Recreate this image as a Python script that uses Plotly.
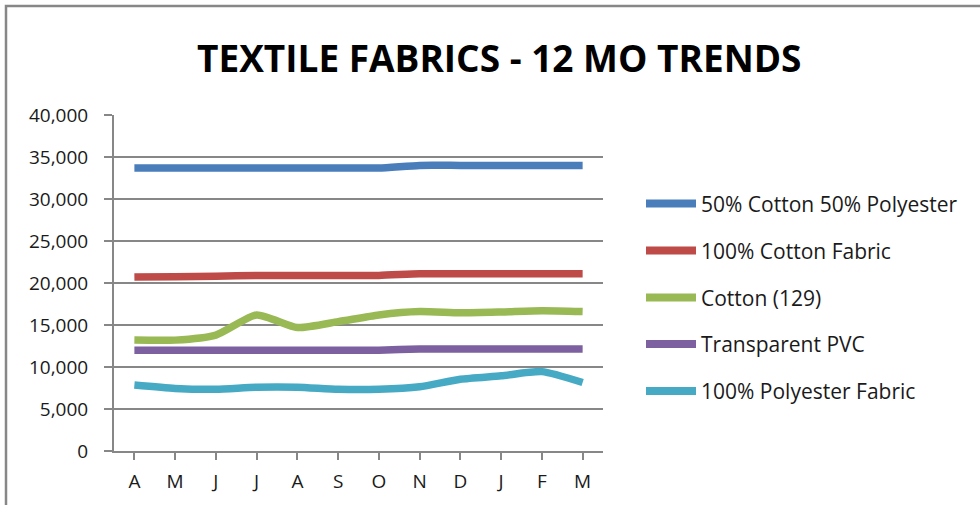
import plotly.graph_objects as go

# Monthly data, April through March
months = ["A", "M", "J", "J", "A", "S", "O", "N", "D", "J", "F", "M"]
series_names = [
    "50% Cotton 50% Polyester",
    "100% Cotton Fabric",
    "Cotton (129)",
    "Transparent PVC",
    "100% Polyester Fabric",
]
poly_cotton_blend = [33700, 33700, 33700, 33700, 33700, 33700, 33700, 34000, 34000, 34000, 34000, 34000]
cotton_fabric = [20700, 20750, 20800, 20900, 20900, 20900, 20900, 21100, 21100, 21100, 21100, 21100]
cotton_129 = [13200, 13200, 13800, 16200, 14700, 15400, 16200, 16600, 16450, 16550, 16700, 16600]
transparent_pvc = [12000, 12000, 12000, 12000, 12000, 12000, 12000, 12150, 12150, 12150, 12150, 12150]
polyester_fabric = [7850, 7450, 7350, 7600, 7600, 7350, 7350, 7650, 8550, 8950, 9450, 8150]
y_ticks = [0, 5000, 10000, 15000, 20000, 25000, 30000, 35000, 40000]

all_series = [poly_cotton_blend, cotton_fabric, cotton_129, transparent_pvc, polyester_fabric]
colors = ["#4A7EBB", "#BE4B48", "#98B954", "#7D60A0", "#46AAC5"]

W, H = 980, 505
L, R, T, B = 114, 603, 115, 451  # plot area edges in pixels
GRAY = "#878787"
FONT = "Open Sans"


def px_x(x):
    return (x - L) / (R - L)


def px_y(y):
    return (B - y) / (B - T)


fig = go.Figure()
x_idx = list(range(len(months)))
for name, vals, col in zip(series_names, all_series, colors):
    fig.add_trace(go.Scatter(
        x=x_idx, y=vals, name=name, mode="lines",
        line=dict(color=col, width=7.5, shape="spline", smoothing=0.6),
        showlegend=False,
    ))

# Hand-drawn legend with long swatches
legend_y = [203.5, 250.5, 297.5, 344, 391]
shapes = []
annotations = []
for name, col, ly in zip(series_names, colors, legend_y):
    shapes.append(dict(type="line", xref="paper", yref="paper",
                       x0=px_x(646), x1=px_x(696), y0=px_y(ly), y1=px_y(ly),
                       line=dict(color=col, width=8)))
    annotations.append(dict(text=name, xref="paper", yref="paper",
                            x=px_x(699), y=px_y(ly), xanchor="left", yanchor="middle",
                            showarrow=False, font=dict(family=FONT, size=21, color="#1a1a1a")))

# Chart frame
shapes.append(dict(type="rect", xref="paper", yref="paper",
                   x0=px_x(6), x1=px_x(W + 10), y0=px_y(6), y1=px_y(H + 10),
                   line=dict(color=GRAY, width=2.5), layer="below"))

annotations.append(dict(text="<b>TEXTILE FABRICS - 12 MO TRENDS</b>", xref="paper", yref="paper",
                        x=px_x(499), y=px_y(58), xanchor="center", yanchor="middle",
                        showarrow=False,
                        font=dict(family=FONT, size=37, color="#000000")))

fig.update_layout(
    width=W, height=H,
    margin=dict(l=L, r=W - R, t=T, b=H - B, pad=0, autoexpand=False),
    paper_bgcolor="white", plot_bgcolor="white",
    shapes=shapes, annotations=annotations,
    font=dict(family=FONT, size=19, color="#1a1a1a"),
)
fig.update_xaxes(
    range=[-0.5, len(months) - 0.5], automargin=False,
    tickmode="array", tickvals=x_idx, ticktext=months,
    ticks="outside", ticklen=7, tickwidth=2, tickcolor=GRAY,
    showline=True, linecolor=GRAY, linewidth=2,
    showgrid=False, zeroline=False,
    ticklabelstandoff=5,
)
fig.update_yaxes(
    range=[0, 40000], tickvals=y_ticks, tickformat=",", automargin=False,
    ticks="outside", ticklen=8, tickwidth=2, tickcolor=GRAY,
    showline=True, linecolor=GRAY, linewidth=2,
    showgrid=True, gridcolor=GRAY, gridwidth=2, zeroline=False,
    ticklabelstandoff=12,
)

fig.write_html("out.html")
